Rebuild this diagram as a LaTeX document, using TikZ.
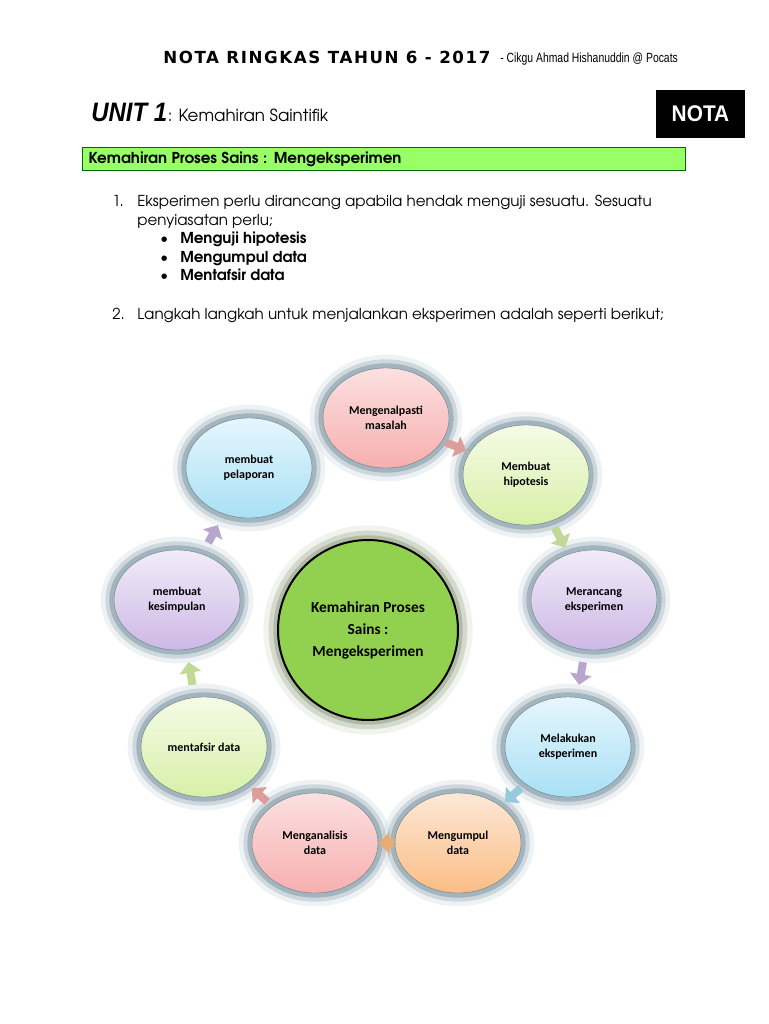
\documentclass[tikz,border=0pt]{standalone}
\usepackage{fontspec}
\usepackage{graphicx}
\usetikzlibrary{shapes.geometric,arrows.meta,positioning}
\setmainfont{texgyreadventor}[Extension=.otf,UprightFont=*-regular,BoldFont=*-bold,ItalicFont=*-italic,BoldItalicFont=*-bolditalic]
\newfontfamily\calfont{Carlito}
\newfontfamily\arialfont{Liberation Sans}
\newfontfamily\headfont[LetterSpace=9.5]{DejaVu Sans}

\definecolor{glowcol}{HTML}{7F98A5}
\definecolor{barfill}{HTML}{99FF66}
\definecolor{centrefill}{HTML}{92D050}
\definecolor{centreglow}{HTML}{8E9C7E}
\definecolor{pinkT}{HTML}{FCE0E0}\definecolor{pinkB}{HTML}{F7AFAF}
\definecolor{greenT}{HTML}{F5FBE6}\definecolor{greenB}{HTML}{D8F0A8}
\definecolor{lilacT}{HTML}{F1ECF8}\definecolor{lilacB}{HTML}{CDB8E6}
\definecolor{blueT}{HTML}{E6F6FD}\definecolor{blueB}{HTML}{A8E0F5}
\definecolor{peachT}{HTML}{FDE8D6}\definecolor{peachB}{HTML}{FBBD85}

\tikzset{
  txt/.style={anchor=base west,inner sep=0pt,font=\fontsize{11.3}{13}\selectfont},
  btxt/.style={txt,font=\bfseries\fontsize{11.3}{13}\selectfont},
  stepnode/.style 2 args={ellipse,minimum width=94.5pt,minimum height=75pt,inner sep=0pt,
    draw=glowcol!80!black,line width=0.3pt,top color=#1,bottom color=#2,align=center,
    font=\calfont\bfseries\fontsize{9}{11}\selectfont,
    preaction={draw=glowcol,line width=20pt,opacity=0.12},
    preaction={draw=glowcol,line width=13pt,opacity=0.3},
    preaction={draw=glowcol,line width=7pt,opacity=0.55}},
  flowarrow/.style 2 args={draw=#1,line width=6pt,
    -{Triangle[width=16pt,length=8pt,fill=#1]},shorten <=#2,shorten >=#2}
}

\begin{document}
\begin{tikzpicture}[x=0.75pt,y=-0.75pt]
\useasboundingbox (0,0) rectangle (768,1024);

% header
\node[anchor=base west,inner sep=0pt] (head) at (163,64) {\headfont\bfseries\fontsize{12.5}{14}\selectfont NOTA RINGKAS TAHUN 6 - 2017};
\node[anchor=base west,inner sep=0pt] (author) at (500,63) {\scalebox{0.78}[1]{\arialfont\fontsize{10}{12}\selectfont - Cikgu Ahmad Hishanuddin @ Pocats}};

\node[anchor=base west,inner sep=0pt] (unit) at (91,122) {\scalebox{0.9}[1]{\arialfont\bfseries\itshape\fontsize{20}{24}\selectfont UNIT 1}};
\node[anchor=base west,inner sep=0pt] (unitname) at (unit.base east) {\fontsize{12.5}{15}\selectfont : Kemahiran Saintifik};
\node[fill=black,minimum width=66.75pt,minimum height=36pt,inner sep=0pt,text=white] (nota) at (700.5,114) {\scalebox{0.92}[1]{\arialfont\bfseries\fontsize{17}{20}\selectfont NOTA}};

\node[draw=black!60!green,fill=barfill,line width=0.8pt,anchor=north west,minimum width=452.25pt,minimum height=17.25pt,
  text width=443pt,inner xsep=4.5pt,inner ysep=0pt,align=left] (bar) at (82,147) {\bfseries\fontsize{11.3}{12}\selectfont Kemahiran Proses Sains : Mengeksperimen};

% list
\node[txt] (n1) at (112,206) {1.};
\node[txt] (l1) at (137,206) {Eksperimen perlu dirancang apabila hendak menguji sesuatu. Sesuatu};
\node[txt] (l2) at (137,225) {penyiasatan perlu;};
\node[txt] (b1) at (160,243) {\textbullet};
\node[btxt] (t1) at (180,243) {Menguji hipotesis};
\node[txt] (b2) at (160,262) {\textbullet};
\node[btxt] (t2) at (180,262) {Mengumpul data};
\node[txt] (b3) at (160,280) {\textbullet};
\node[btxt] (t3) at (180,280) {Mentafsir data};
\node[txt] (n2) at (112,319) {2.};
\node[txt] (l3) at (137,319) {Langkah langkah untuk menjalankan eksperimen adalah seperti berikut;};

% centre
\node[circle,minimum size=135pt,inner sep=0pt,fill=centrefill,draw=black,line width=1.5pt,align=center,
  preaction={draw=centreglow,line width=22pt,opacity=0.12},
  preaction={draw=centreglow,line width=14pt,opacity=0.3},
  preaction={draw=centreglow,line width=7pt,opacity=0.5},
  font=\calfont\bfseries\fontsize{11.5}{16.5}\selectfont] (c) at (368,630) {Kemahiran Proses\\Sains :\\Mengeksperimen};

% steps
\node[stepnode={pinkT}{pinkB}] (s1) at (386,418) {Mengenalpasti\\masalah};
\node[stepnode={greenT}{greenB}] (s2) at (526,475) {Membuat\\hipotesis};
\node[stepnode={lilacT}{lilacB}] (s3) at (594,600) {Merancang\\eksperimen};
\node[stepnode={blueT}{blueB}] (s4) at (568,747) {Melakukan\\eksperimen};
\node[stepnode={peachT}{peachB}] (s5) at (458,843) {Mengumpul\\data};
\node[stepnode={pinkT}{pinkB}] (s6) at (315,843) {Menganalisis\\data};
\node[stepnode={greenT}{greenB}] (s7) at (204,747) {mentafsir data};
\node[stepnode={lilacT}{lilacB}] (s8) at (177,600) {membuat\\kesimpulan};
\node[stepnode={blueT}{blueB}] (s9) at (249,468) {membuat\\pelaporan};

\draw[flowarrow={pinkB!90!black}{3pt}] (s1) -- (s2);
\draw[flowarrow={greenB!90!black}{5.5pt}] (s2) -- (s3);
\draw[flowarrow={lilacB!90!black}{9.5pt}] (s3) -- (s4);
\draw[flowarrow={blueB!90!black}{4.5pt}] (s4) -- (s5);
\draw[flowarrow={peachB!70!brown}{0.5pt}] (s5) -- (s6);
\draw[flowarrow={pinkB!90!black}{5pt}] (s6) -- (s7);
\draw[flowarrow={greenB!90!black}{9.5pt}] (s7) -- (s8);
\draw[flowarrow={lilacB!90!black}{9.5pt}] (s8) -- (s9);
\end{tikzpicture}
\end{document}
